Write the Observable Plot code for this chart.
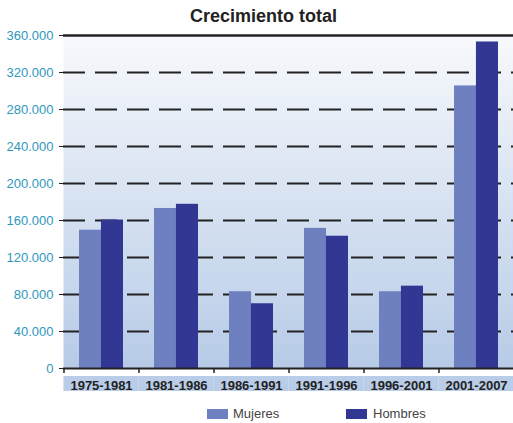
<!DOCTYPE html>
<html>
<head>
<meta charset="utf-8">
<script src="https://cdn.jsdelivr.net/npm/d3@7"></script>
<script src="https://cdn.jsdelivr.net/npm/@observablehq/plot@0.6"></script>
<style>
  html, body { margin: 0; padding: 0; background: #fff; }
  body { width: 513px; height: 423px; overflow: hidden; font-family: "Liberation Sans", Arial, sans-serif; }
  #title { height: 28px; padding-top: 4px; line-height: 24px; font-weight: bold; font-size: 18px; color: #222; text-align: center; padding-left: 14px; box-sizing: border-box; }
  #legend { position: relative; height: 23px; font-size: 13px; color: #444; }
  .sw { position: absolute; top: 9px; width: 21px; height: 10px; }
  .lt { position: absolute; top: 6px; }
</style>
</head>
<body>
<div id="title">Crecimiento total</div>
<div id="chart"></div>
<div id="legend"></div>
<script>
const categories = ["1975-1981", "1981-1986", "1986-1991", "1991-1996", "1996-2001", "2001-2007"];
const series = ["Mujeres", "Hombres"];
const mujeres = [149500, 173000, 83000, 151500, 83000, 305500];
const hombres = [160500, 177500, 70000, 143000, 89000, 353000];
const yTicks = [0, 40000, 80000, 120000, 160000, 200000, 240000, 280000, 320000, 360000];
const colors = ["#6f80c0", "#333794"];

const rows = [];
categories.forEach((c, i) => {
  rows.push({cat: c, serie: series[0], value: mujeres[i]});
  rows.push({cat: c, serie: series[1], value: hombres[i]});
});

const fmt = v => d3.format(",")(v).replace(/,/g, ".");
const W = 513, H = 372, mL = 63, mR = 0, mT = 7, mB = 32;
const step = (W - mL - mR) / categories.length;
const padIn = 0.415;
const bw = step * (1 - padIn);

const chart = Plot.plot({
  width: W, height: H,
  marginLeft: mL, marginRight: mR, marginTop: mT, marginBottom: mB,
  style: {fontFamily: "'Liberation Sans', Arial, sans-serif", background: "transparent", overflow: "visible"},
  x: {domain: categories, paddingInner: padIn, paddingOuter: padIn / 2, align: 0.5, axis: null},
  y: {domain: [0, 360000], axis: null},
  color: {domain: series, range: colors},
  marks: [
    Plot.frame({fill: "url(#bgGrad)", stroke: null}),
    // category label band
    Plot.rect(categories, {x: d => d, y1: 0, y2: 0, fill: "#b9cde9", insetLeft: -(step - bw) / 2, insetRight: -(step - bw) / 2, className: "catband"}),
    Plot.ruleY(yTicks.filter(v => v > 0 && v < 360000), {stroke: "#222", strokeWidth: 2, strokeDasharray: "22,10", className: "grid"}),
    Plot.barY(rows.filter(d => d.serie === "Mujeres"), {x: "cat", y: "value", fill: "serie", insetRight: bw / 2}),
    Plot.barY(rows.filter(d => d.serie === "Hombres"), {x: "cat", y: "value", fill: "serie", insetLeft: bw / 2}),
    Plot.ruleY([0], {stroke: "#222", strokeWidth: 2}),
    Plot.ruleY([360000], {stroke: "#222", strokeWidth: 2.5}),
    Plot.axisY({ticks: yTicks, tickFormat: fmt, tickSize: 4, tickPadding: 6, fontSize: 13, color: "#2e98bd", stroke: "#222", label: null}),
    Plot.ruleX([0], {frameAnchor: "left", stroke: "#222", strokeWidth: 2.5}),
    Plot.axisX({ticks: categories, tickFormat: null, tickSize: 5, dx: -step / 2, stroke: "#222", strokeWidth: 1.5, label: null}),
    Plot.axisX({ticks: categories, tickSize: 0, tickPadding: 12, fontSize: 13, fontWeight: "bold", color: "#222", label: null})
  ]
});

// gradient definition
const svg = d3.select(chart);
const defs = svg.insert("defs", ":first-child");
const g = defs.append("linearGradient").attr("id", "bgGrad").attr("x1", 0).attr("y1", 0).attr("x2", 0).attr("y2", 1);
g.append("stop").attr("offset", "0%").attr("stop-color", "#f7f9fc");
g.append("stop").attr("offset", "100%").attr("stop-color", "#b7cbe7");

// position category label band in pixel space below the axis
const y0 = chart.scale("y").apply(0);
svg.selectAll(".catband rect").attr("y", y0 + 8).attr("height", 15);
// left axis line extends a little below baseline
svg.selectAll("line").filter(function () { return this.getAttribute("x1") === this.getAttribute("x2") && +this.getAttribute("x1") === mL; })
  .attr("y2", y0 + 3);

document.getElementById("chart").appendChild(chart);

const legend = document.getElementById("legend");
const lx = [{sx: 207, tx: 233}, {sx: 346, tx: 373}];
series.forEach((s, i) => {
  const sw = document.createElement("div");
  sw.className = "sw"; sw.style.left = lx[i].sx + "px"; sw.style.background = colors[i];
  const t = document.createElement("div");
  t.className = "lt"; t.style.left = lx[i].tx + "px"; t.textContent = s;
  legend.appendChild(sw); legend.appendChild(t);
});
</script>
</body>
</html>
